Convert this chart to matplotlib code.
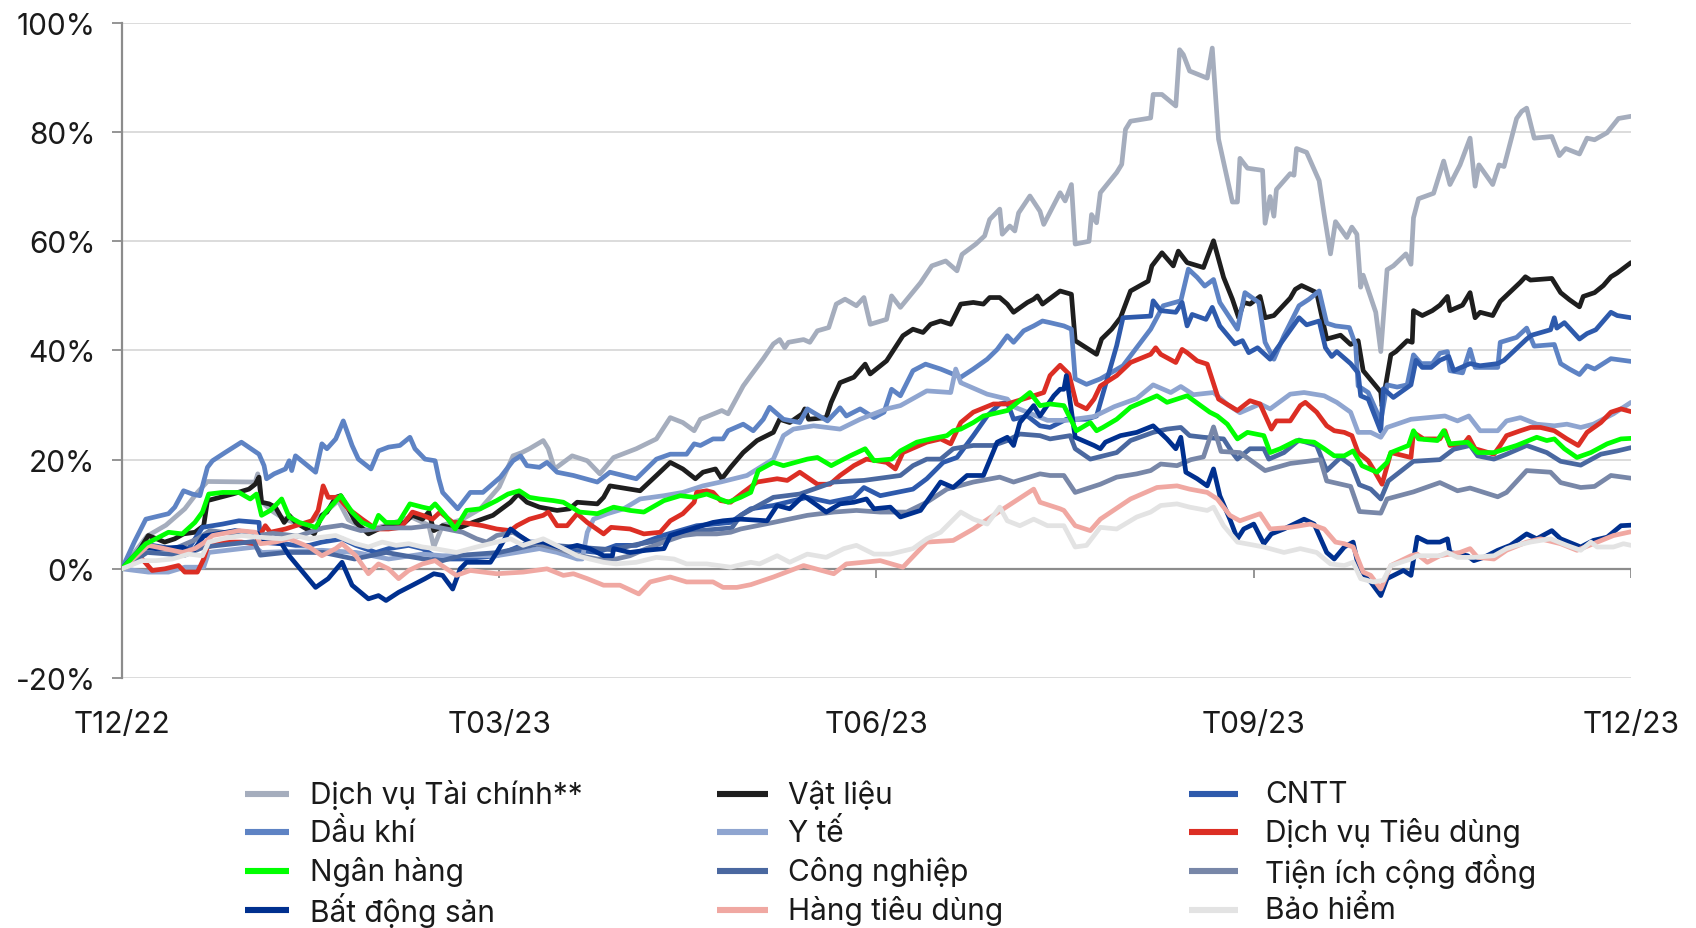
import matplotlib
matplotlib.use("Agg")
import matplotlib.pyplot as plt
from matplotlib.lines import Line2D

plt.rcParams['font.family'] = ['Inter', 'DejaVu Sans']

# ---- data: (month since end of Dec-2022, cumulative return %) ----
dvtc = [(0,0),(0.1,3),(0.2,6),(0.35,8),(0.5,11),(0.6,14),(0.68,16),(1.06,15.9),(1.08,17.4),(1.11,12.3),(1.2,10.5),(1.3,9),(1.45,8),(1.6,10),(1.72,12.5),(1.8,9),(1.95,7),(2.1,8),(2.3,9.5),(2.44,8),(2.48,4),(2.55,8),(2.7,9),(2.85,11),(3.0,15),(3.11,20.7),(3.18,21.3),(3.24,22),(3.35,23.5),(3.39,22),(3.44,18.3),(3.58,20.7),(3.7,19.8),(3.8,17.4),(3.91,20.4),(4.09,22),(4.25,23.8),(4.36,27.7),(4.46,26.8),(4.55,25.3),(4.6,27.4),(4.77,29),(4.82,28.4),(4.94,33.5),(5.0,35.4),(5.1,38.5),(5.18,41.2),(5.23,42),(5.27,40.5),(5.3,41.5),(5.42,42),(5.47,41.5),(5.53,43.6),(5.62,44.2),(5.68,48.5),(5.75,49.4),(5.84,48.2),(5.9,49.7),(5.95,44.8),(6.08,45.7),(6.12,50),(6.19,47.9),(6.35,52.4),(6.44,55.5),(6.55,56.4),(6.64,54.6),(6.68,57.6),(6.79,59.5),(6.86,61),(6.9,64),(6.98,65.9),(7.0,61.3),(7.06,62.8),(7.1,61.9),(7.13,65.2),(7.22,68.3),(7.3,65.5),(7.33,63.1),(7.46,68.9),(7.5,67.4),(7.55,70.4),(7.58,59.5),(7.69,60),(7.71,64.9),(7.75,63.4),(7.78,68.9),(7.91,72.6),(7.95,74.1),(7.98,80.5),(8.02,82),(8.18,82.6),(8.2,86.9),(8.27,86.9),(8.38,84.8),(8.41,95.1),(8.44,94.2),(8.49,91.2),(8.63,89.9),(8.67,95.4),(8.72,78.7),(8.83,67.2),(8.87,67.2),(8.89,75.2),(8.95,73.4),(9.07,73),(9.09,63.3),(9.13,68.2),(9.16,64.6),(9.18,69.5),(9.29,72.4),(9.32,72.1),(9.34,77),(9.42,76.3),(9.52,71.1),(9.56,64.9),(9.61,57.7),(9.65,63.6),(9.74,60.7),(9.78,62.6),(9.82,61.3),(9.85,51.6),(9.87,53.8),(9.97,47),(10.01,39.8),(10.06,54.8),(10.11,55.5),(10.21,57.7),(10.25,55.8),(10.27,64.3),(10.31,67.8),(10.43,68.8),(10.51,74.7),(10.56,70.4),(10.64,74),(10.72,78.9),(10.76,70.1),(10.79,74),(10.9,70.4),(10.95,74),(10.99,73.7),(11.09,82.5),(11.13,83.8),(11.17,84.4),(11.23,78.9),(11.37,79.2),(11.43,75.7),(11.48,77),(11.59,76),(11.65,78.9),(11.71,78.6),(11.81,79.9),(11.9,82.5),(12.0,82.9)]

vat_lieu = [(0,0),(0.1,2),(0.21,6.1),(0.34,4.9),(0.42,5.5),(0.49,6.4),(0.58,6.7),(0.65,7.9),(0.68,12.5),(0.73,12.8),(0.88,13.7),(1.01,14.6),(1.06,15.5),(1.09,16.8),(1.11,12.2),(1.17,11.9),(1.22,11.3),(1.29,8.5),(1.33,9.8),(1.38,8.5),(1.49,7),(1.53,6.4),(1.59,9.8),(1.63,10.4),(1.7,13.1),(1.74,13.4),(1.8,11),(1.86,8.5),(1.96,6.4),(2.04,7.3),(2.12,7.9),(2.25,8.5),(2.31,9.8),(2.39,9.1),(2.44,10.4),(2.48,7),(2.55,7.9),(2.66,7.3),(2.79,8.5),(2.95,9.8),(3.09,12.2),(3.15,13.7),(3.22,12.2),(3.32,11.3),(3.46,10.7),(3.56,11),(3.62,12.2),(3.78,11.9),(3.83,13.1),(3.88,15.2),(4.04,14.6),(4.12,14.3),(4.25,17.1),(4.36,19.5),(4.46,18.3),(4.56,16.5),(4.62,17.7),(4.72,18.3),(4.77,16.5),(4.84,18.6),(4.94,21.3),(5.05,23.5),(5.18,25),(5.23,27.4),(5.31,26.8),(5.41,28.4),(5.43,29.3),(5.46,27.4),(5.6,27.7),(5.64,30.5),(5.71,34.1),(5.82,35.1),(5.91,37.5),(5.95,35.7),(6.08,38.1),(6.21,42.7),(6.29,43.9),(6.37,43.3),(6.43,44.8),(6.51,45.4),(6.59,44.8),(6.67,48.5),(6.77,48.8),(6.85,48.5),(6.9,49.7),(6.98,49.7),(7.04,48.5),(7.09,47),(7.2,48.8),(7.25,49.4),(7.28,50),(7.32,48.5),(7.46,50.9),(7.55,50.3),(7.58,41.8),(7.75,39.3),(7.79,42.1),(7.87,43.9),(7.94,46),(8.02,50.9),(8.16,52.7),(8.19,55.5),(8.27,57.9),(8.36,55.5),(8.4,58.2),(8.47,56.1),(8.6,55.2),(8.68,60.1),(8.76,53.4),(8.83,49.4),(8.88,46),(8.92,48.8),(8.97,48.5),(9.05,49.9),(9.09,46),(9.16,46.4),(9.29,49.6),(9.33,51.2),(9.38,51.9),(9.5,50.6),(9.58,42.1),(9.69,42.8),(9.77,41.1),(9.83,41.8),(9.87,36.3),(10.01,32.4),(10.02,29.8),(10.09,39.2),(10.13,39.8),(10.22,41.8),(10.26,41.5),(10.27,47.3),(10.34,46.4),(10.42,47.3),(10.48,48.3),(10.54,49.9),(10.56,47.3),(10.66,48.3),(10.72,50.6),(10.76,46),(10.8,47),(10.9,46.4),(10.96,49),(11.12,52.5),(11.16,53.5),(11.2,52.9),(11.37,53.2),(11.44,50.6),(11.51,49.3),(11.59,48),(11.62,49.9),(11.71,50.6),(11.78,51.9),(11.84,53.5),(11.89,54.2),(12.0,56.1)]

cntt = [(0,0),(0.16,3.7),(0.24,4.3),(0.4,3.7),(0.53,3.7),(0.64,7.6),(0.8,8.2),(0.93,8.8),(1.09,8.5),(1.1,5.5),(1.19,4.9),(1.38,4.3),(1.49,4.3),(1.59,4.9),(1.75,5.5),(1.86,4.3),(2.02,3),(2.12,3.7),(2.28,4.3),(2.39,3.7),(2.52,1.8),(2.71,1.8),(2.98,2.4),(3.24,4.9),(3.51,3.7),(3.78,3),(3.93,4.3),(4.09,4.3),(4.3,6.1),(4.57,7.9),(4.84,8.5),(4.92,9.8),(5.0,11),(5.18,11.6),(5.45,13.1),(5.63,12.2),(5.82,13.1),(5.9,14.9),(6.03,13.4),(6.29,14.6),(6.4,16.5),(6.53,19.5),(6.64,20.4),(6.77,24.4),(6.88,28),(6.98,30.2),(7.04,30.5),(7.09,27.4),(7.2,28),(7.3,26.2),(7.38,25.9),(7.51,27.4),(7.67,27.4),(7.75,28),(7.91,40.9),(7.96,46),(8.18,46.3),(8.2,49.1),(8.26,47.3),(8.38,47),(8.43,48.8),(8.47,44.5),(8.51,46.6),(8.62,45.7),(8.67,47.9),(8.73,44.5),(8.85,41.2),(8.91,41.8),(8.96,39.6),(9.03,40.5),(9.13,38.4),(9.18,40.2),(9.36,46),(9.42,44.7),(9.52,45.4),(9.57,40.5),(9.62,38.9),(9.66,39.8),(9.77,37.6),(9.83,35.9),(9.85,31.7),(9.91,31.1),(10.01,25.2),(10.03,33),(10.11,31.4),(10.25,33.7),(10.29,38.2),(10.34,36.9),(10.41,36.9),(10.48,38.2),(10.55,38.9),(10.59,36.3),(10.72,37.6),(10.8,37.2),(10.94,37.6),(10.99,38.2),(11.17,42.1),(11.21,42.8),(11.36,43.8),(11.39,46),(11.41,44.1),(11.47,45.1),(11.59,42.1),(11.65,43.1),(11.72,43.8),(11.84,47),(11.89,46.4),(12.0,46)]

dau_khi = [(0,0),(0.1,5),(0.19,9.1),(0.37,10.1),(0.42,11.3),(0.49,14.3),(0.56,13.7),(0.62,13.4),(0.68,18.6),(0.72,19.8),(0.82,21.3),(0.95,23.2),(1.09,21),(1.13,18.9),(1.15,16.5),(1.21,17.4),(1.3,18.3),(1.33,19.8),(1.35,18),(1.38,20.7),(1.54,17.7),(1.59,22.9),(1.63,22),(1.7,23.8),(1.76,27.1),(1.83,22.6),(1.88,20.1),(1.98,18.3),(2.04,21.6),(2.12,22.3),(2.21,22.6),(2.29,24.1),(2.33,22),(2.41,20.1),(2.49,19.8),(2.52,16.5),(2.55,14),(2.67,11),(2.77,14),(2.87,14),(2.93,15.2),(3.01,16.8),(3.11,19.8),(3.17,20.7),(3.22,18.9),(3.32,18.6),(3.38,19.5),(3.46,17.7),(3.59,17.1),(3.78,15.9),(3.88,17.7),(4.09,16.5),(4.17,18.3),(4.25,20.1),(4.36,21),(4.49,21),(4.55,22.9),(4.6,22.6),(4.7,23.8),(4.78,23.8),(4.82,25.3),(4.94,26.5),(5.02,25.3),(5.1,27.4),(5.15,29.6),(5.26,27.4),(5.39,26.8),(5.45,29.3),(5.61,27.1),(5.71,29.5),(5.76,28),(5.87,29.3),(5.98,27.7),(6.06,28.7),(6.12,32.9),(6.19,31.7),(6.29,36.3),(6.39,37.5),(6.51,36.6),(6.67,35.1),(6.77,36.6),(6.88,38.4),(6.96,40.2),(7.04,42.7),(7.09,41.5),(7.17,43.6),(7.25,44.5),(7.32,45.4),(7.38,45.1),(7.49,44.5),(7.55,43.9),(7.58,34.8),(7.67,33.8),(7.78,34.8),(7.96,37.2),(8.18,43.9),(8.28,48.2),(8.42,49.1),(8.48,54.9),(8.55,53.4),(8.61,51.8),(8.68,53),(8.73,48.8),(8.87,43.9),(8.93,50.6),(9.04,48.8),(9.09,41.5),(9.16,38.4),(9.24,42.7),(9.36,48.2),(9.44,49.4),(9.52,50.9),(9.58,45),(9.65,44.5),(9.76,44.2),(9.81,41),(9.83,33.5),(9.91,32.3),(10.01,27.1),(10.06,33.7),(10.14,33.3),(10.22,33.7),(10.27,39.2),(10.33,37.6),(10.42,37.6),(10.48,39.5),(10.54,39.8),(10.56,36.3),(10.66,35.9),(10.72,40.2),(10.76,36.9),(10.94,36.9),(10.96,41.5),(11.09,42.4),(11.17,44.1),(11.23,40.8),(11.39,41.1),(11.44,37.6),(11.51,36.6),(11.59,35.6),(11.65,37.2),(11.71,36.6),(11.84,38.5),(12.0,38)]

y_te = [(0,0),(0.21,-0.6),(0.37,-0.6),(0.5,0.3),(0.65,0.3),(0.69,3),(1.06,4),(1.11,3),(1.59,3.4),(1.86,3),(2.12,1.8),(2.39,2.7),(2.55,2.4),(2.71,2.4),(2.98,2.4),(3.14,3),(3.32,3.7),(3.46,3),(3.62,1.8),(3.66,1.8),(3.7,6.7),(3.75,9.1),(3.86,10.1),(3.99,11),(4.12,12.8),(4.31,13.4),(4.46,14),(4.62,15.2),(4.76,15.9),(4.97,17.1),(5.18,20.1),(5.26,24.4),(5.34,25.6),(5.5,26.2),(5.71,25.6),(5.87,27.4),(6.08,29.3),(6.19,29.9),(6.4,32.6),(6.59,32.3),(6.63,36.6),(6.67,34.1),(6.88,32),(7.04,31.1),(7.09,29.7),(7.36,27.2),(7.51,27.2),(7.73,27.9),(7.89,29.7),(8.07,31.2),(8.2,33.7),(8.34,32.3),(8.42,33.4),(8.52,31.9),(8.68,32.3),(8.79,30.1),(8.89,28.6),(9.05,30.2),(9.13,29.3),(9.29,32),(9.4,32.3),(9.56,31.7),(9.66,30.5),(9.77,28.7),(9.83,25),(9.93,25),(10.01,24.1),(10.06,25.9),(10.25,27.4),(10.52,28),(10.62,27.1),(10.71,28),(10.8,25.3),(10.94,25.3),(11.01,27.1),(11.12,27.7),(11.25,26.5),(11.39,26.2),(11.49,26.5),(11.6,25.9),(11.7,26.5),(11.86,28.4),(12.0,30.5)]

dv_tieu_dung = [(0,0),(0.16,1.8),(0.24,-0.3),(0.34,0),(0.45,0.6),(0.5,-0.6),(0.6,-0.6),(0.65,1.8),(0.68,4),(0.8,4.9),(0.95,4.9),(1.06,4.6),(1.14,7.9),(1.18,6.7),(1.3,7.3),(1.38,7.9),(1.51,8.8),(1.56,10.7),(1.6,15.2),(1.64,13.1),(1.72,13.1),(1.8,11),(1.91,9.1),(2.02,7.3),(2.12,7.3),(2.22,7.6),(2.31,10.4),(2.39,9.8),(2.47,9.1),(2.53,10.4),(2.63,8.5),(2.71,8.5),(2.87,7.9),(2.98,7.3),(3.09,7),(3.14,7.9),(3.24,9.1),(3.35,9.8),(3.39,10.4),(3.46,7.9),(3.54,7.9),(3.62,10.1),(3.7,8.5),(3.83,6.4),(3.89,7.6),(4.04,7.3),(4.15,6.4),(4.28,6.7),(4.36,8.8),(4.46,10.1),(4.55,12.2),(4.57,14),(4.65,14.3),(4.7,14),(4.76,12.5),(4.84,12.2),(4.94,14),(5.05,15.9),(5.21,16.5),(5.29,16.2),(5.39,17.7),(5.53,15.5),(5.63,15.5),(5.71,17.1),(5.82,18.9),(5.92,20.1),(6.08,19.5),(6.15,18.3),(6.21,21.3),(6.4,23.2),(6.51,23.8),(6.59,22.9),(6.67,26.8),(6.77,28.7),(6.93,30.2),(7.04,30.2),(7.25,31.7),(7.33,32.3),(7.38,35.4),(7.46,37.3),(7.53,35.7),(7.59,30.2),(7.67,29.3),(7.73,31.1),(7.78,33.5),(7.91,35.4),(8.02,37.8),(8.18,39.3),(8.22,40.5),(8.26,39.3),(8.38,37.8),(8.43,40.2),(8.47,39.6),(8.55,38.1),(8.63,37.5),(8.72,31.1),(8.87,29),(8.97,30.8),(9.05,30.2),(9.14,25.6),(9.18,27.1),(9.29,27.1),(9.37,29.9),(9.41,30.5),(9.5,28.7),(9.58,26.2),(9.64,25.3),(9.72,25),(9.78,24.4),(9.83,21.3),(9.91,19.8),(9.95,18.3),(10.02,15.5),(10.09,21.3),(10.25,20.4),(10.27,25),(10.35,23.8),(10.48,23.8),(10.52,25.3),(10.56,22.6),(10.67,22.9),(10.71,24.1),(10.76,22),(10.91,21),(10.96,22.6),(11.01,24.4),(11.12,25.3),(11.2,25.9),(11.28,25.9),(11.39,25.3),(11.49,23.8),(11.58,22.6),(11.65,25),(11.76,26.8),(11.84,28.7),(11.92,29.3),(12.0,28.8)]

ngan_hang = [(0,0),(0.1,2.5),(0.19,4.6),(0.27,5.5),(0.37,6.7),(0.48,6.4),(0.58,8.5),(0.64,10.4),(0.69,13.7),(0.8,14),(0.93,14),(1.02,12.8),(1.07,13.7),(1.11,9.8),(1.18,10.7),(1.22,11.6),(1.27,12.8),(1.33,9.5),(1.41,8.5),(1.54,7.6),(1.62,10.4),(1.74,13.4),(1.83,10.4),(1.91,8.5),(2.0,7.6),(2.04,9.8),(2.1,8.5),(2.2,8.5),(2.29,11.9),(2.39,11.3),(2.45,11),(2.49,11.9),(2.57,9.8),(2.65,7.3),(2.74,10.7),(2.85,11),(2.98,12.5),(3.07,13.7),(3.16,14.3),(3.24,13.1),(3.32,12.8),(3.43,12.5),(3.51,12.2),(3.64,10.4),(3.78,10.1),(3.91,11.3),(4.04,10.7),(4.15,10.4),(4.31,12.5),(4.44,13.4),(4.55,13.1),(4.65,13.7),(4.82,12.2),(4.92,13.1),(5.0,14),(5.06,18),(5.18,19.5),(5.26,18.9),(5.45,20.1),(5.53,20.4),(5.64,18.9),(5.79,20.7),(5.91,22),(5.98,19.8),(6.12,20.1),(6.19,21.6),(6.32,23.2),(6.43,23.8),(6.56,24.4),(6.61,25.3),(6.67,25.6),(6.77,26.8),(6.85,28),(7.04,29),(7.22,32.3),(7.3,29.9),(7.38,30.2),(7.49,29.9),(7.59,25.3),(7.7,26.8),(7.75,25.3),(7.8,25.9),(7.91,27.4),(8.02,29.6),(8.23,31.7),(8.31,30.5),(8.39,31.1),(8.47,31.7),(8.65,28.7),(8.71,28),(8.79,26.5),(8.87,23.8),(8.95,25),(9.08,24.4),(9.13,21.3),(9.21,22),(9.34,23.5),(9.48,23.2),(9.56,22),(9.64,20.7),(9.72,20.7),(9.79,21.6),(9.86,18.9),(9.98,17.7),(10.06,19.5),(10.09,21.3),(10.23,22.6),(10.27,25.3),(10.31,23.8),(10.46,23.5),(10.51,25.3),(10.56,22.9),(10.7,23.2),(10.78,21.3),(10.91,21.3),(11.09,22.6),(11.25,24.1),(11.33,23.5),(11.39,23.8),(11.47,22),(11.57,20.4),(11.68,21.3),(11.81,22.9),(11.92,23.8),(12.0,23.9)]

cong_nghiep = [(0,0),(0.2,3),(0.5,2.5),(0.65,4),(1.05,5),(1.1,2.5),(1.3,3),(1.6,3),(1.85,1.8),(2.1,3),(2.4,1.8),(2.55,1.5),(2.7,2.5),(3.0,3),(3.3,4.5),(3.6,4),(3.9,3.5),(4.1,4.5),(4.35,5.5),(4.6,7),(4.85,7.5),(4.92,9.8),(5.18,13.1),(5.39,13.7),(5.66,15.9),(5.9,16.2),(6.19,17.1),(6.29,18.9),(6.4,20.1),(6.51,20.1),(6.61,22),(6.77,22.6),(6.93,22.6),(7.04,23.5),(7.14,24.7),(7.3,24.4),(7.38,23.8),(7.54,24.4),(7.58,22),(7.7,20.1),(7.91,21.3),(8.02,23.5),(8.2,25),(8.31,25.6),(8.42,25.9),(8.49,24.4),(8.6,24.1),(8.76,23.8),(8.83,21.3),(8.87,20.1),(8.97,22),(9.08,22),(9.12,20.1),(9.24,21.3),(9.36,23.6),(9.5,22.6),(9.58,18),(9.69,20.4),(9.78,18.9),(9.84,15.4),(9.93,14.6),(10.01,12.8),(10.07,16.1),(10.27,19.7),(10.48,20),(10.59,21.9),(10.72,22.6),(10.78,20.7),(10.91,20.1),(11.01,21),(11.17,22.6),(11.33,21.3),(11.44,19.7),(11.6,19),(11.76,21),(11.89,21.6),(12.0,22.2)]

tien_ich = [(0,0),(0.2,4),(0.4,3.5),(0.6,5.5),(0.7,7),(1.05,6),(1.2,6.5),(1.4,6),(1.6,7.5),(1.75,8),(1.9,7),(2.1,7.5),(2.3,7.5),(2.45,7.9),(2.71,6.7),(2.82,5.5),(2.9,4.9),(2.98,6.1),(3.11,6.7),(3.24,4.9),(3.46,3.7),(3.64,2.4),(3.78,1.8),(3.93,1.8),(4.04,2.4),(4.17,3.7),(4.31,4.9),(4.46,6.1),(4.57,6.4),(4.73,6.4),(4.84,6.7),(4.92,7.3),(5.18,8.5),(5.45,9.8),(5.66,10.4),(5.84,10.7),(6.03,10.4),(6.24,10.4),(6.4,12.2),(6.56,14.6),(6.77,15.9),(6.98,16.8),(7.09,15.9),(7.3,17.4),(7.38,17.1),(7.49,17.1),(7.58,14),(7.78,15.5),(7.91,16.8),(8.07,17.4),(8.18,18),(8.26,19.2),(8.39,18.9),(8.5,20),(8.6,20.5),(8.68,26),(8.74,21.5),(8.89,21.3),(9.09,18),(9.29,19.3),(9.53,20),(9.58,16.1),(9.77,15.1),(9.84,10.5),(10.01,10.2),(10.06,12.8),(10.27,14.1),(10.48,15.8),(10.62,14.3),(10.72,14.8),(10.94,13.2),(11.01,14),(11.17,18),(11.36,17.7),(11.44,15.8),(11.6,14.9),(11.71,15.1),(11.84,17.1),(12.0,16.6)]

bat_dong_san = [(0,0),(0.16,4),(0.27,3.7),(0.48,4),(0.56,3),(0.65,6),(0.9,7),(1.08,6.5),(1.1,4.9),(1.27,4.6),(1.33,2.4),(1.54,-3.4),(1.64,-1.8),(1.75,1.2),(1.83,-3),(1.96,-5.5),(2.04,-4.9),(2.1,-5.8),(2.2,-4.3),(2.31,-3),(2.41,-1.8),(2.48,-0.9),(2.55,-1.2),(2.63,-3.7),(2.69,0),(2.74,1.2),(2.93,1.2),(2.98,3),(3.09,7.3),(3.16,6.1),(3.24,4.9),(3.35,4.9),(3.51,3.7),(3.62,4.3),(3.72,3.7),(3.83,2.4),(3.9,2.4),(3.91,3.7),(4.04,3),(4.17,3.4),(4.31,3.7),(4.36,6.1),(4.57,7.6),(4.7,8.5),(4.78,8.8),(4.92,9.1),(5.13,8.8),(5.21,11.6),(5.31,11),(5.42,13.4),(5.53,11.6),(5.6,10.4),(5.71,11.9),(5.82,12.2),(5.92,12.8),(5.98,11),(6.11,11.3),(6.19,9.5),(6.35,10.7),(6.51,15.9),(6.61,14.9),(6.72,17.1),(6.85,17.1),(6.96,23.2),(7.04,24.1),(7.09,22.6),(7.14,26.8),(7.25,29.9),(7.3,28),(7.41,31.7),(7.46,32.9),(7.49,32.9),(7.51,35.4),(7.58,24.1),(7.73,22.6),(7.78,22),(7.82,23.2),(7.94,24.4),(8.07,25),(8.2,26.2),(8.31,23.8),(8.38,22),(8.42,24.1),(8.46,17.7),(8.55,16.5),(8.63,15.2),(8.68,18.3),(8.73,13.4),(8.81,9.1),(8.87,5.5),(8.92,7.3),(9.0,8.2),(9.08,4.6),(9.14,6.4),(9.24,7.3),(9.4,9.1),(9.48,8.2),(9.58,3),(9.64,1.8),(9.72,4),(9.79,4.9),(9.83,0.6),(9.9,-1.8),(9.93,-2.4),(10.01,-4.9),(10.06,-1.8),(10.19,-0.3),(10.25,-1.2),(10.3,5.8),(10.38,4.9),(10.48,4.9),(10.54,5.5),(10.56,3),(10.7,2.4),(10.75,1.5),(10.83,2.1),(10.94,3.4),(11.04,4.3),(11.17,6.4),(11.25,5.5),(11.37,7),(11.44,5.5),(11.6,4),(11.7,5.2),(11.81,5.8),(11.92,7.9),(12.0,8)]

hang_tieu_dung = [(0,0),(0.21,4.3),(0.34,3.7),(0.48,3),(0.58,3.7),(0.66,4.9),(0.72,6.1),(0.93,7),(1.06,6.7),(1.1,4.6),(1.22,4.9),(1.33,5.5),(1.49,4),(1.59,2.4),(1.7,3.7),(1.75,4.6),(1.86,2.4),(1.96,-0.9),(2.04,0.9),(2.12,0),(2.2,-1.8),(2.28,-0.3),(2.39,0.9),(2.49,1.5),(2.55,0.5),(2.66,-1.2),(2.77,-0.3),(2.98,-0.9),(3.19,-0.6),(3.38,0),(3.51,-1.2),(3.59,-0.9),(3.7,-1.8),(3.83,-3),(3.96,-3),(4.11,-4.6),(4.2,-2.4),(4.36,-1.5),(4.49,-2.4),(4.7,-2.4),(4.78,-3.4),(4.89,-3.4),(5.0,-2.9),(5.18,-1.5),(5.42,0.6),(5.66,-0.9),(5.76,0.9),(6.03,1.5),(6.21,0.3),(6.4,4.9),(6.61,5.2),(6.77,7.3),(6.93,9.8),(7.09,12.2),(7.25,14.6),(7.3,12.2),(7.46,11),(7.49,10.7),(7.58,7.9),(7.7,7),(7.78,9.1),(8.02,12.8),(8.23,14.9),(8.39,15.2),(8.49,14.6),(8.63,14),(8.71,12.8),(8.81,9.8),(8.89,8.8),(9.05,10.1),(9.13,7.3),(9.29,7.6),(9.45,8.2),(9.56,7.3),(9.65,4.9),(9.72,4.6),(9.79,4),(9.87,-0.6),(9.93,-1.2),(10.01,-3.7),(10.09,0.6),(10.25,2.4),(10.3,2.7),(10.38,1.2),(10.48,2.4),(10.64,3),(10.72,3.7),(10.78,2.1),(10.91,1.8),(11.01,3.4),(11.17,4.9),(11.28,5.5),(11.44,4.6),(11.57,3.4),(11.7,4.6),(11.86,6.1),(12.0,6.8)]

bao_hiem = [(0,0),(0.16,1.5),(0.27,1.5),(0.4,1.8),(0.53,2.7),(0.64,2.4),(0.69,4.9),(0.8,5.5),(0.95,6.1),(1.09,5.8),(1.27,5.5),(1.38,6.1),(1.49,5.5),(1.59,5.8),(1.7,6.1),(1.86,4.6),(1.96,4),(2.07,4.9),(2.18,4.3),(2.28,4.6),(2.39,4),(2.49,3.7),(2.66,3),(2.82,4),(2.98,4.9),(3.09,5.5),(3.19,4.3),(3.35,5.5),(3.51,3.7),(3.62,2.4),(3.72,1.8),(3.83,1.2),(3.93,0.9),(4.09,1.2),(4.25,2.1),(4.39,1.8),(4.49,0.9),(4.65,0.9),(4.84,0.3),(5.0,1.2),(5.07,0.9),(5.21,2.4),(5.31,1.2),(5.45,2.7),(5.6,2.1),(5.74,3.7),(5.84,4.3),(5.98,2.7),(6.11,2.7),(6.29,3.7),(6.4,5.5),(6.51,6.7),(6.67,10.4),(6.77,9.1),(6.88,8.2),(6.98,11.3),(7.04,8.8),(7.14,7.9),(7.25,9.1),(7.36,7.9),(7.49,7.9),(7.58,4),(7.67,4.3),(7.78,7.6),(7.91,7.3),(8.07,9.5),(8.18,10.4),(8.26,11.6),(8.39,11.9),(8.49,11.3),(8.63,10.7),(8.68,11.3),(8.76,7.9),(8.87,4.9),(9.08,4),(9.24,3),(9.37,3.7),(9.5,3),(9.61,0.9),(9.72,0.6),(9.79,1.2),(9.85,-1.8),(9.95,-2.4),(10.03,-2.1),(10.09,0.6),(10.25,1.8),(10.3,2.4),(10.48,2.4),(10.54,3),(10.62,2.1),(10.75,2.1),(10.91,2.4),(11.01,3.7),(11.09,4.3),(11.2,4.9),(11.36,5.5),(11.49,4.3),(11.6,3.4),(11.68,4.9),(11.73,4),(11.86,4),(11.94,4.6),(12.0,4.3)]

labels = ["Dịch vụ Tài chính**", "Vật liệu", "CNTT",
          "Dầu khí", "Y tế", "Dịch vụ Tiêu dùng",
          "Ngân hàng", "Công nghiệp", "Tiện ích cộng đồng",
          "Bất động sản", "Hàng tiêu dùng", "Bảo hiểm"]
series = [dvtc, vat_lieu, cntt, dau_khi, y_te, dv_tieu_dung,
          ngan_hang, cong_nghiep, tien_ich, bat_dong_san, hang_tieu_dung, bao_hiem]
colors = ["#A5ADBD", "#1E1E1E", "#2E5AAC",
          "#5E83C4", "#8FA5D0", "#DC2E24",
          "#00FF00", "#4A68A0", "#7887A8",
          "#00308F", "#F0A8A2", "#E3E3E3"]

x_ticks = [0, 3, 6, 9, 12]
x_ticklabels = ["T12/22", "T03/23", "T06/23", "T09/23", "T12/23"]
y_ticks = [-20, 0, 20, 40, 60, 80, 100]

# ---- figure ----
fig = plt.figure(figsize=(16.96, 9.29), dpi=100)
ax = fig.add_axes([0.0719, 0.2691, 0.8898, 0.7051])

FS = 21.5
TXT = "#1A1A1A"

order = [0, 1, 3, 2, 4, 5, 7, 8, 9, 10, 6, 11]
for rank, i in enumerate(order):
    xs = [p[0] for p in series[i]]
    ys = [p[1] for p in series[i]]
    ax.plot(xs, ys, color=colors[i], lw=3.4, solid_joinstyle='round',
            solid_capstyle='round', zorder=3 + rank * 0.01)

ax.set_xlim(0, 12)
ax.set_ylim(-20, 100)
ax.set_yticks(y_ticks)
ax.set_yticklabels([f"{v}%" for v in y_ticks], fontsize=FS, color=TXT)
ax.set_xticks(x_ticks)
ax.set_xticklabels(x_ticklabels, fontsize=FS, color=TXT)
ax.tick_params(axis='x', length=0, pad=23)
ax.tick_params(axis='y', length=7, width=1.3, color="#8C8C8C", pad=12)

ax.grid(axis='y', color="#D9D9D9", lw=1.3, zorder=0)
ax.set_axisbelow(True)
for s in ['top', 'right', 'bottom']:
    ax.spines[s].set_visible(False)
ax.spines['left'].set_color("#8C8C8C")
ax.spines['left'].set_linewidth(1.6)

ax.axhline(0, color="#8C8C8C", lw=1.6, zorder=2)
ax.vlines(x_ticks[1:], -1.6, 0, color="#8C8C8C", lw=1.3, zorder=2)

# ---- legend laid out as a 3x4 grid ----
row_y = [0.1442, 0.1033, 0.0614, 0.0194]
col_h0 = [0.1445, 0.4228, 0.7011]
col_h1 = [0.1705, 0.4528, 0.7300]
col_t = [0.1828, 0.4646, 0.7459]
for k, lab in enumerate(labels):
    r, c = divmod(k, 3)
    fig.add_artist(Line2D([col_h0[c], col_h1[c]], [row_y[r], row_y[r]],
                          transform=fig.transFigure, color=colors[k], lw=4.4,
                          solid_capstyle='butt'))
    fig.text(col_t[c], row_y[r], lab, fontsize=FS, color=TXT,
             va='center', ha='left')

fig.savefig("out.png", dpi=100)
